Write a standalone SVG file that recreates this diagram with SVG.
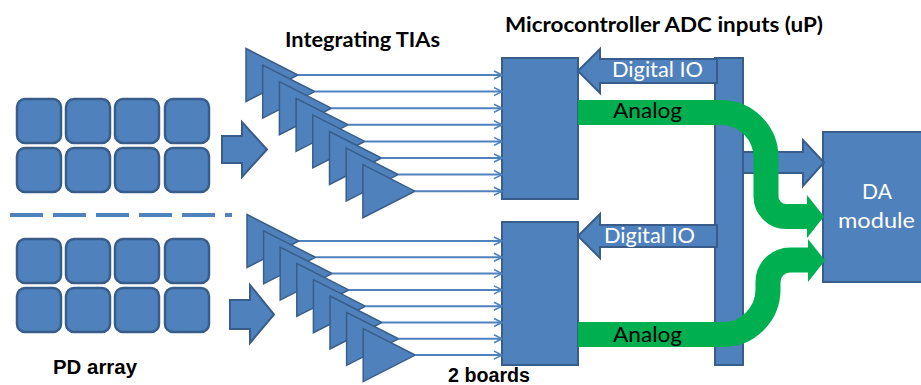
<svg xmlns="http://www.w3.org/2000/svg" width="921" height="385" viewBox="0 0 921 385">
<defs>
<style>
.b{fill:#4f81bd;stroke:#385d8a;stroke-width:2}
.sq{fill:#4f81bd;stroke:#385d8a;stroke-width:2.5}
.tia{fill:#4f81bd;stroke:#385d8a;stroke-width:1.5;stroke-linejoin:miter}
.ln{stroke:#4f81bd;stroke-width:2;fill:none;marker-end:url(#chev)}
.g{stroke:#00b050;stroke-width:25;fill:none}
.gh{fill:#00b050}
.t{font-family:Lato,"Liberation Sans",sans-serif;font-weight:bold;fill:#000;font-size:20px}
.a{font-family:"Liberation Sans",Arial,sans-serif;font-weight:bold;fill:#000;font-size:20px}
.w{font-family:Lato,"Liberation Sans",sans-serif;fill:#fff;font-size:21px}
.k{font-family:Lato,"Liberation Sans",sans-serif;fill:#000;font-size:21px}
</style>
<marker id="chev" viewBox="0 0 10 10" refX="9" refY="5" markerWidth="10" markerHeight="10" markerUnits="userSpaceOnUse" orient="auto">
<path d="M1,1 L9,5 L1,9" fill="none" stroke="#4f81bd" stroke-width="1.6"/>
</marker>
<g id="sqrow">
<rect class="sq" x="17" y="0" width="44" height="44" rx="8"/>
<rect class="sq" x="66" y="0" width="44" height="44" rx="8"/>
<rect class="sq" x="115" y="0" width="44" height="44" rx="8"/>
<rect class="sq" x="165" y="0" width="44" height="44" rx="8"/>
</g>
<polygon id="tri" class="tia" points="0,0 52,26.5 0,53"/>
</defs>

<g id="pd-array-top">
<use href="#sqrow" y="99"/>
<use href="#sqrow" y="148"/>
</g>
<g id="pd-array-bottom">
<use href="#sqrow" y="239"/>
<use href="#sqrow" y="288"/>
</g>
<g id="separator">
<line x1="10" y1="215" x2="232" y2="215" stroke="#4f81bd" stroke-width="4" stroke-dasharray="33 10"/>
</g>

<g id="tia-top">
<use href="#tri" x="246" y="48.5"/>
<use href="#tri" x="262.7" y="65.1"/>
<use href="#tri" x="279.4" y="81.7"/>
<use href="#tri" x="296.1" y="98.3"/>
<use href="#tri" x="312.8" y="114.9"/>
<use href="#tri" x="329.5" y="131.5"/>
<use href="#tri" x="346.2" y="148.1"/>
<use href="#tri" x="362.9" y="164.7"/>
</g>
<g id="tia-bottom">
<use href="#tri" x="247" y="214.5"/>
<use href="#tri" x="263.6" y="230.8"/>
<use href="#tri" x="280.2" y="247.1"/>
<use href="#tri" x="296.8" y="263.4"/>
<use href="#tri" x="313.4" y="279.7"/>
<use href="#tri" x="330" y="296"/>
<use href="#tri" x="346.6" y="312.3"/>
<use href="#tri" x="363.2" y="328.6"/>
</g>

<g id="adc-top"><rect class="b" x="502" y="58" width="76" height="141"/></g>
<g id="adc-bottom"><rect class="b" x="502" y="222" width="76" height="143"/></g>
<g id="bus"><rect class="b" x="715" y="58" width="28" height="307"/></g>
<g id="da-module">
<rect class="b" x="823" y="132" width="100" height="150"/>
<text class="w" x="877" y="199" text-anchor="middle">DA</text>
<text class="w" x="876.5" y="228" text-anchor="middle" textLength="77" lengthAdjust="spacingAndGlyphs">module</text>
</g>

<g id="connectors">
<polygon class="b" points="222,136 242,136 242,122 267,149.5 242,177 242,163 222,163"/>
<polygon class="b" points="230,300 250,300 250,285 274,314.5 250,343 250,329 230,329"/>
<line class="ln" x1="298" y1="75" x2="502" y2="75"/>
<line class="ln" x1="314.7" y1="91.6" x2="502" y2="91.6"/>
<line class="ln" x1="331.4" y1="108.2" x2="502" y2="108.2"/>
<line class="ln" x1="348.1" y1="124.8" x2="502" y2="124.8"/>
<line class="ln" x1="364.8" y1="141.4" x2="502" y2="141.4"/>
<line class="ln" x1="381.5" y1="158" x2="502" y2="158"/>
<line class="ln" x1="398.2" y1="174.6" x2="502" y2="174.6"/>
<line class="ln" x1="414.9" y1="191.2" x2="502" y2="191.2"/>
<line class="ln" x1="299" y1="241" x2="502" y2="241"/>
<line class="ln" x1="315.6" y1="257.3" x2="502" y2="257.3"/>
<line class="ln" x1="332.2" y1="273.6" x2="502" y2="273.6"/>
<line class="ln" x1="348.8" y1="289.9" x2="502" y2="289.9"/>
<line class="ln" x1="365.4" y1="306.2" x2="502" y2="306.2"/>
<line class="ln" x1="382" y1="322.5" x2="502" y2="322.5"/>
<line class="ln" x1="398.6" y1="338.8" x2="502" y2="338.8"/>
<line class="ln" x1="415.2" y1="355.1" x2="502" y2="355.1"/>
<polygon class="b" points="578,71 600,49 600,59 717,59 717,83 600,83 600,93"/>
<polygon class="b" points="578,236 600,214 600,225 717,225 717,247 600,247 600,258"/>
<polygon class="b" points="743,152 803,152 803,140 824,162.5 803,186 803,173 743,173"/>
<path class="g" d="M578,112.5 H721 A45,45 0 0 1 766,157.5 V196.5 A20,20 0 0 0 786,216.5 H809"/>
<polygon class="gh" points="807,195 824,216.5 807,238"/>
<path class="g" d="M578,334.5 H723 A45,45 0 0 0 768,289.5 V282 A22,22 0 0 1 790,260 H810"/>
<polygon class="gh" points="808,239 825,260.5 808,282"/>
</g>

<g id="labels">
<text class="t" x="285" y="47" textLength="155" lengthAdjust="spacingAndGlyphs">Integrating TIAs</text>
<text class="t" x="505" y="32" font-size="21" textLength="318" lengthAdjust="spacingAndGlyphs">Microcontroller ADC inputs (uP)</text>
<text class="a" x="53" y="374" textLength="84" lengthAdjust="spacingAndGlyphs">PD array</text>
<text class="a" x="448" y="382" textLength="82" lengthAdjust="spacingAndGlyphs">2 boards</text>
<text class="w" x="612" y="77" textLength="91" lengthAdjust="spacingAndGlyphs">Digital IO</text>
<text class="w" x="604" y="243" textLength="91" lengthAdjust="spacingAndGlyphs">Digital IO</text>
<text class="k" x="613" y="118" textLength="69" lengthAdjust="spacingAndGlyphs">Analog</text>
<text class="k" x="613" y="342" textLength="69" lengthAdjust="spacingAndGlyphs">Analog</text>
</g>
</svg>
